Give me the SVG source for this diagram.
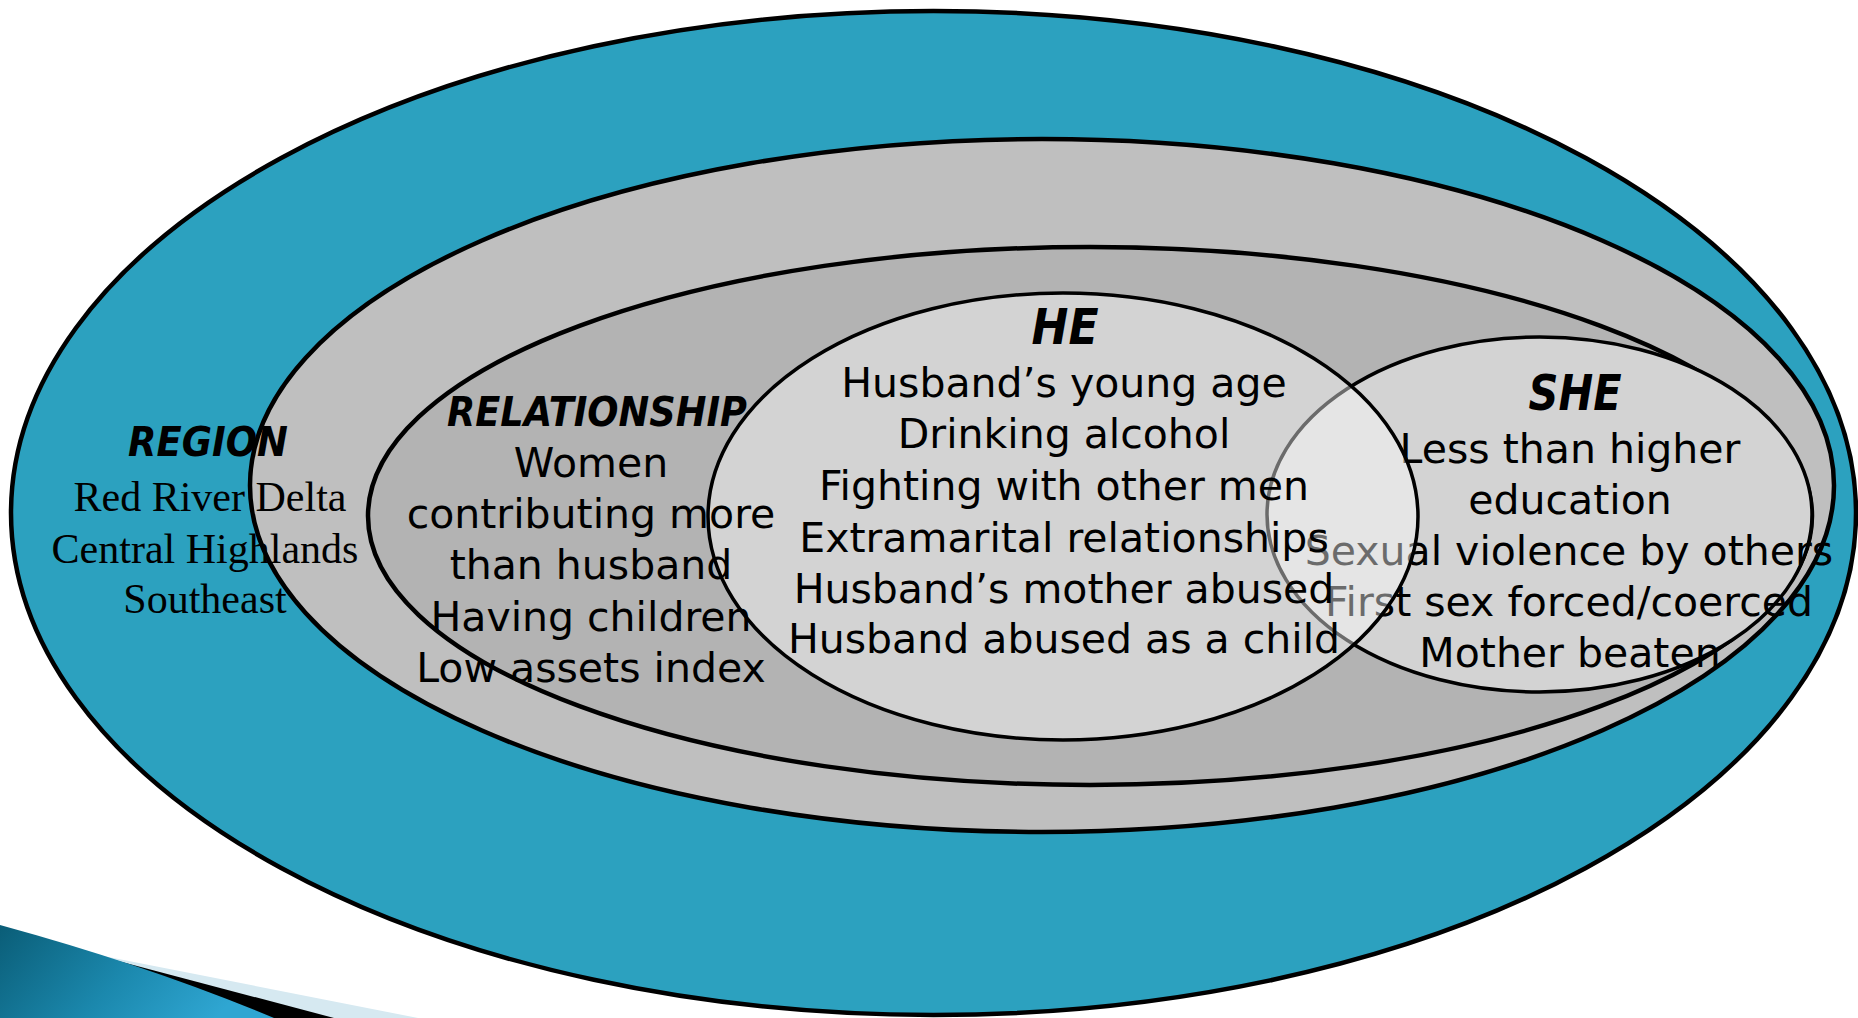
<svg xmlns="http://www.w3.org/2000/svg" width="1858" height="1018" viewBox="0 0 1858 1018">
  <defs>
    <linearGradient id="swoosh" x1="0" y1="0" x2="1" y2="0.3">
      <stop offset="0" stop-color="#0a5d77"/>
      <stop offset="0.55" stop-color="#1b88ad"/>
      <stop offset="1" stop-color="#2fa6d2"/>
    </linearGradient>
    <style>
      .ring { stroke: #000; stroke-width: 4.5; }
      .inner { stroke: #000; stroke-width: 3.5; }
      .title { font-family: "DejaVu Sans", "Liberation Sans", sans-serif; font-weight: bold; font-style: italic; text-anchor: middle; fill: #000; }
      .body { font-family: "DejaVu Sans", "Liberation Sans", sans-serif; font-size: 41px; text-anchor: middle; fill: #000; }
      .serif { font-family: "Liberation Serif", "Times New Roman", serif; font-size: 42px; text-anchor: middle; fill: #000; }
    </style>
  </defs>

  <rect width="1858" height="1018" fill="#ffffff"/>

  <!-- corner swoosh of the slide template -->
  <g id="swoosh-corner">
    <path d="M88,953 L418,1018 L0,1018 Z" fill="#d6e9f1"/>
    <path d="M88,953 L334,1018 L0,1018 Z" fill="#000"/>
    <path d="M0,925 Q150,966 274,1018 L0,1018 Z" fill="url(#swoosh)"/>
  </g>

  <!-- REGION level -->
  <g id="region">
    <ellipse class="ring" cx="933.5" cy="513" rx="922.5" ry="502" fill="#2ca1bf"/>
  </g>

  <!-- community ring -->
  <g id="community">
    <ellipse class="ring" cx="1042" cy="485.5" rx="792" ry="346.5" fill="#bfbfbf"/>
  </g>

  <!-- RELATIONSHIP level -->
  <g id="relationship">
    <ellipse class="ring" cx="1090" cy="516" rx="722" ry="269" fill="#b3b3b3"/>
  </g>

  <!-- SHE circle, partly seen through HE -->
  <g id="she">
    <ellipse class="inner" cx="1539.5" cy="514.5" rx="272.5" ry="177.5" fill="#d3d3d3"/>
    <text class="title" x="1575" y="410" font-size="49" textLength="93" lengthAdjust="spacingAndGlyphs">SHE</text>
    <text class="body" x="1570" y="463">Less than higher</text>
    <text class="body" x="1570" y="514">education</text>
    <text class="body" x="1569" y="565">Sexual violence by others</text>
    <text class="body" x="1569" y="616">First sex forced/coerced</text>
    <text class="body" x="1570" y="667">Mother beaten</text>
  </g>

  <!-- HE circle with translucent fill -->
  <g id="he">
    <ellipse class="inner" cx="1063" cy="516.5" rx="355" ry="223.5" fill="#ffffff" fill-opacity="0.42"/>
    <text class="title" x="1065" y="344" font-size="49" textLength="67" lengthAdjust="spacingAndGlyphs">HE</text>
    <text class="body" x="1064" y="397">Husband’s young age</text>
    <text class="body" x="1064" y="448">Drinking alcohol</text>
    <text class="body" x="1064" y="500">Fighting with other men</text>
    <text class="body" x="1064" y="552">Extramarital relationships</text>
    <text class="body" x="1064" y="603">Husband’s mother abused</text>
    <text class="body" x="1064" y="653">Husband abused as a child</text>
  </g>

  <!-- RELATIONSHIP labels -->
  <g id="relationship-text">
    <text class="title" x="597" y="426" font-size="41" textLength="300" lengthAdjust="spacingAndGlyphs">RELATIONSHIP</text>
    <text class="body" x="591" y="477">Women</text>
    <text class="body" x="591" y="528">contributing more</text>
    <text class="body" x="591" y="579">than husband</text>
    <text class="body" x="591" y="631">Having children</text>
    <text class="body" x="591" y="682">Low assets index</text>
  </g>

  <!-- REGION labels -->
  <g id="region-text">
    <text class="title" x="208" y="456" font-size="41" textLength="160" lengthAdjust="spacingAndGlyphs">REGION</text>
    <text class="serif" x="210" y="511">Red River Delta</text>
    <text class="serif" x="205" y="563">Central Highlands</text>
    <text class="serif" x="205" y="613">Southeast</text>
  </g>
</svg>
